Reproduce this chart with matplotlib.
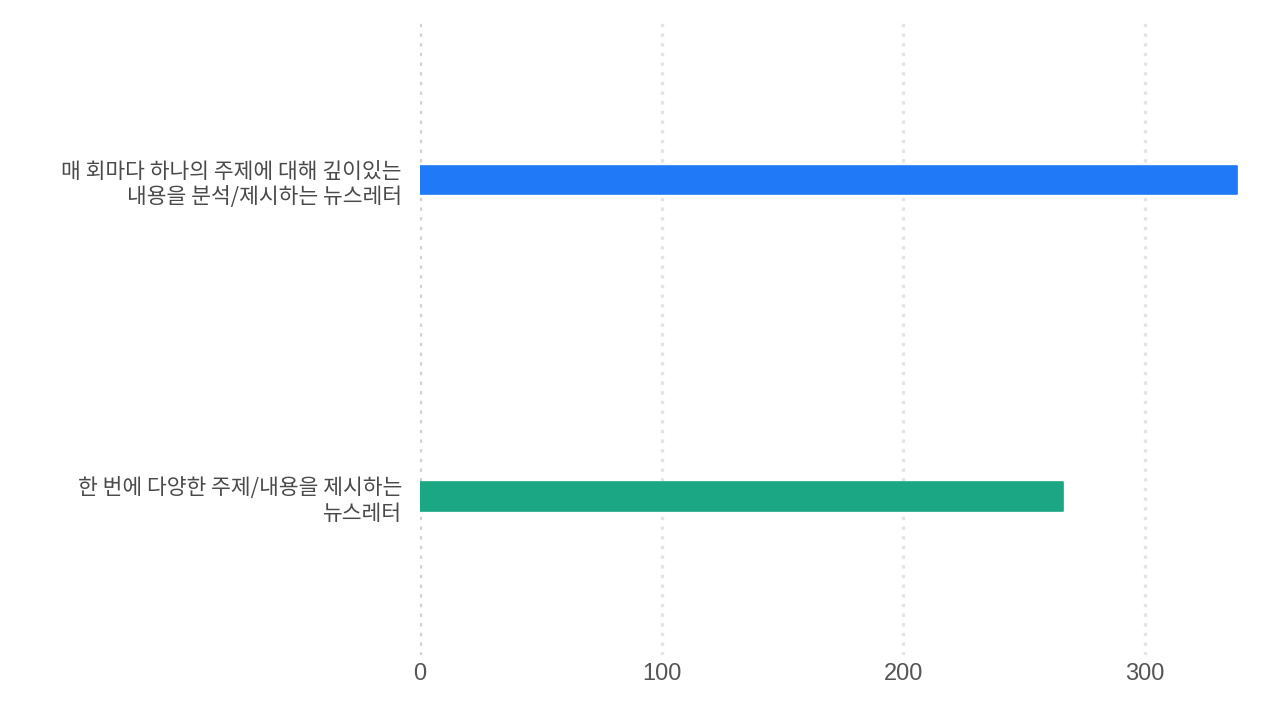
import matplotlib.pyplot as plt

categories = ["매 회마다 하나의 주제에 대해 깊이있는\n내용을 분석/제시하는 뉴스레터",
              "한 번에 다양한 주제/내용을 제시하는\n뉴스레터"]
values = [338, 266]
colors = ["#2079F6", "#1BA784"]
xticks = [0, 100, 200, 300]

fig = plt.figure(figsize=(12.8, 7.23), dpi=100)
ax = fig.add_axes([0.328, 0.094, 0.642, 0.876])

ypos = list(range(len(categories)))
ax.barh(ypos, values, height=0.09, color=colors, edgecolor=colors,
        linewidth=1.2, joinstyle="round", zorder=3)

ax.set_xlim(0, 340)
ax.set_ylim(1.5, -0.5)

# dotted vertical grid
for t in xticks:
    c = "#d0d0d0" if t == 0 else "#e4e4e4"
    ax.axvline(t, color=c, linewidth=2.4, linestyle=(0, (1, 1.9)),
               dash_capstyle="butt", zorder=1)

for s in ax.spines.values():
    s.set_visible(False)

ax.set_xticks(xticks)
ax.set_xticklabels([str(t) for t in xticks], fontsize=17, color="#555555",
                   family=["Liberation Sans", "DejaVu Sans"])
ax.set_yticks(ypos)
ax.set_yticklabels(categories, fontsize=15.5, color="#4a4a4a",
                   family=["Noto Sans CJK KR", "DejaVu Sans"], linespacing=1.2)
ax.tick_params(axis="both", length=0)
ax.tick_params(axis="x", pad=6)
ax.tick_params(axis="y", pad=13)

fig.savefig("out.png", dpi=100, facecolor="white")
